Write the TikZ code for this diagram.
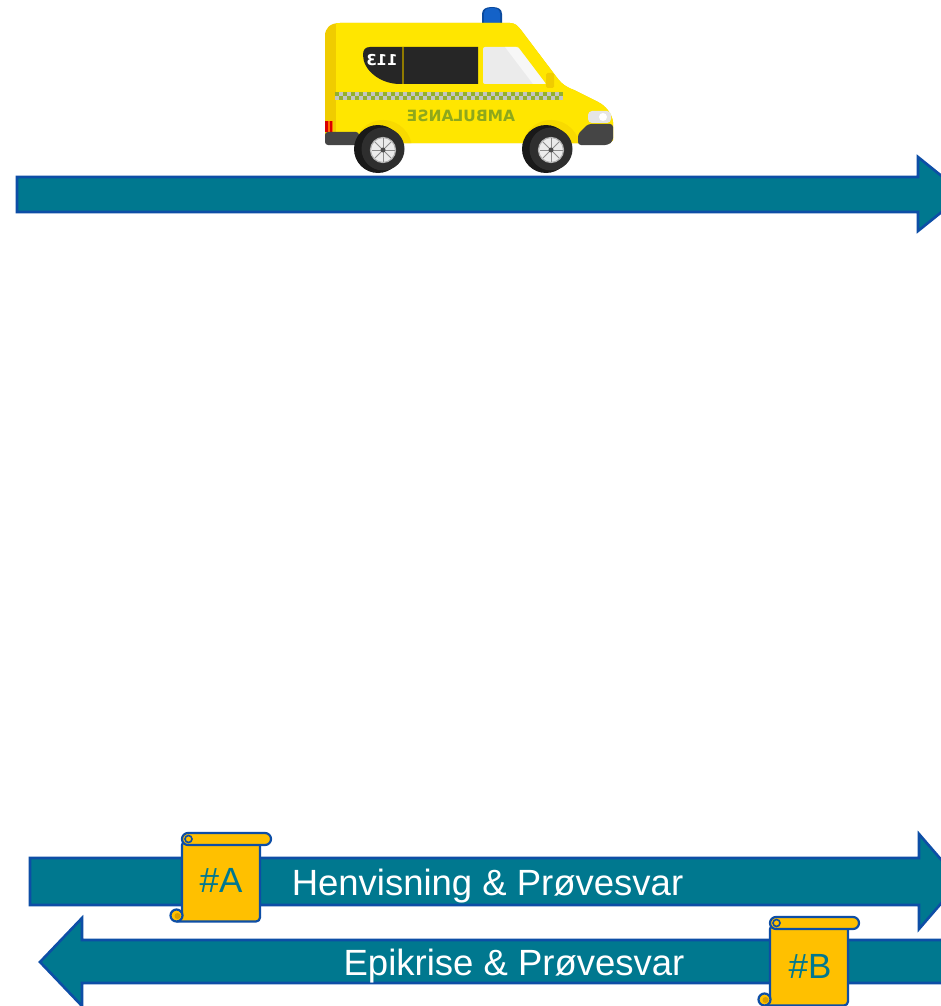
\documentclass[tikz,border=0pt]{standalone}
\usepackage{fontspec}
\setmainfont{Liberation Sans}
\newfontfamily\vanfont{DejaVu Sans}
\definecolor{flowteal}{HTML}{00788F}
\definecolor{flowedge}{HTML}{0D4EA6}
\definecolor{scrollgold}{HTML}{FFC000}
\definecolor{scrolldark}{HTML}{D79E00}
\definecolor{vanyellow}{HTML}{FFE600}
\definecolor{vanshade}{HTML}{F0CC00}
\definecolor{vanarch}{HTML}{F8DA00}
\definecolor{glass}{HTML}{262626}
\definecolor{trim}{HTML}{454545}
\definecolor{olive}{HTML}{8EA81C}
\definecolor{checkgreen}{HTML}{93B02C}
\definecolor{checkgray}{HTML}{C4C4C4}
\definecolor{beacon}{HTML}{1462C8}
\definecolor{beacondark}{HTML}{0B4A9E}

\tikzset{
  flow/.style={fill=flowteal, draw=flowedge, line width=2.6pt, line join=miter},
  flowlabel/.style={text=white, font=\fontsize{36.5}{40}\selectfont, anchor=base, inner sep=0pt},
  scrollpart/.style={fill=scrollgold, draw=flowedge, line width=2.2pt, line join=round},
  taglabel/.style={text=flowteal, font=\fontsize{35}{40}\selectfont, inner sep=0pt},
  tyre/.style={fill=black!90},
  hub/.style={fill=black!8, draw=black!30, line width=1.2pt},
  spoke/.style={draw=black!45, line width=1pt},
  pics/scroll/.style={code={
    % sheet with its rolled lower edge
    \filldraw[scrollpart, rounded corners=4pt] (-5.5,88.5) -- (78,88.5) -- (78,8) -- (0,8) -- (0,83);
    \filldraw[scrollpart] (-5.5,82.5) circle (6);
    \fill[scrolldark] (-4.5,83) circle (3);
    % top roll
    \filldraw[scrollpart, rounded corners=6pt] (0,0) rectangle (89,12);
    \draw[flowedge, line width=1.6pt] (6.5,6) circle (3.5);
  }}
}

\def\vanbody{(330,143) -- (325,138) -- (325,36) .. controls (325,28) and (330,23) .. (340,23) -- (510,23) .. controls (515,23) and (518,26) .. (521,30) -- (558,79) .. controls (562,84) and (566,87) .. (574,90) -- (598,102) .. controls (606,106) and (612,114) .. (613,122) -- (613,140) -- (610,143) -- cycle}

\begin{document}
\begin{tikzpicture}[x=1pt,y=-1pt]
\useasboundingbox (0,0) rectangle (941,1006);
\fill[white] (0,0) rectangle (941,1006);
\clip (0,0) rectangle (941,1006);

% ---- ambulance ----
% roof beacon
\fill[beacondark] (482,24) -- (482,14) .. controls (482,9) and (486,7) .. (492,7) .. controls (498,7) and (502,9) .. (502,14) -- (502,24) -- cycle;
\fill[beacon] (484,24) -- (484,14) .. controls (484,10) and (487,8) .. (492,8) .. controls (497,8) and (500,10) .. (500,14) -- (500,24) -- cycle;

% body
\fill[vanshade] \vanbody;
\begin{scope}
  \clip \vanbody;
  \fill[vanyellow] (336,0) rectangle (620,150);
  \fill[vanarch] (383,149) circle (29);
  \fill[vanarch] (551,149) circle (29);
\end{scope}

% windows
\fill[glass] (478,47) -- (370,47) .. controls (365,47) and (363,50) .. (363,55) .. controls (363,70) and (380,84) .. (400,84) -- (478,84) -- cycle;
\draw[vanshade!60!black, line width=1.2pt] (403,47) -- (403,84);
\fill[black!8, rounded corners=2pt] (483,47) -- (518,47) -- (546,84) -- (483,84) -- cycle;
\fill[white, opacity=0.6] (505,47) -- (518,47) -- (546,84) -- (533,84) -- cycle;
\fill[vanshade, rounded corners=1.5pt] (546,73) rectangle (554,88);

% chequered band
\foreach \i in {0,...,56}{
  \pgfmathtruncatemacro\odd{mod(\i,2)}
  \ifnum\odd=0 \def\ca{checkgreen}\def\cb{checkgray}\else\def\ca{checkgray}\def\cb{checkgreen}\fi
  \fill[\ca] (335+4*\i,92) rectangle ++(4,4);
  \fill[\cb] (335+4*\i,96) rectangle ++(4,4);
}

% mirrored lettering
\node[text=white, font=\vanfont\bfseries\fontsize{15}{15}\selectfont, inner sep=0pt] (vannumber) at (382,60) {\scalebox{-1}[1]{113}};
\node[text=olive, font=\vanfont\bfseries\fontsize{15.5}{16}\selectfont, inner sep=0pt] (vanmark) at (461,116) {\scalebox{-1}[1]{AMBULANSE}};

% rear lamps and bumper
\fill[orange!85!red] (325,121) rectangle (333,132);
\fill[red!85!black] (325,121) rectangle (327.5,132);
\fill[red!85!black] (330,121) rectangle (332,132);
\fill[trim, rounded corners=3pt] (325,132) rectangle (359,145);

% headlamp and front bumper
\fill[black!10, rounded corners=4pt] (588,111) rectangle (611,123);
\fill[white] (603,117) circle (4);
\fill[trim, rounded corners=3pt] (588,124) -- (613,124) -- (613,141) -- (608,145) -- (578,145) -- (578,134) -- cycle;

% wheels
\foreach \cx in {378,546}{
  \fill[tyre] (\cx,149) circle (24);
  \fill[black!82] (\cx+5,149) circle (21.5);
  \filldraw[hub] (\cx+5,150) circle (12.5);
  \foreach \a in {0,45,...,315} \draw[spoke] (\cx+5,150) -- ++(\a:11.5);
  \fill[black!70] (\cx+5,150) circle (2.5);
}

% ---- flow arrows ----
\filldraw[flow] (17,177) -- (918,177) -- (918,157) -- (964,194) -- (918,231) -- (918,212) -- (17,212) -- cycle;
\filldraw[flow] (30,858) -- (919,858) -- (919,834) -- (960,881.5) -- (919,929) -- (919,905) -- (30,905) -- cycle;
\filldraw[flow] (40,962) -- (82,918) -- (82,940) -- (975,940) -- (975,983) -- (82,983) -- (82,1006) -- cycle;

\node[flowlabel] (forward) at (487.5,895) {Henvisning \& Prøvesvar};
\node[flowlabel] (backward) at (514,975) {Epikrise \& Prøvesvar};

% ---- documents ----
\pic at (182,833) {scroll};
\pic at (770,917) {scroll};
\node[taglabel] (tagA) at (221,880) {\#A};
\node[taglabel] (tagB) at (810,966) {\#B};
\end{tikzpicture}
\end{document}
